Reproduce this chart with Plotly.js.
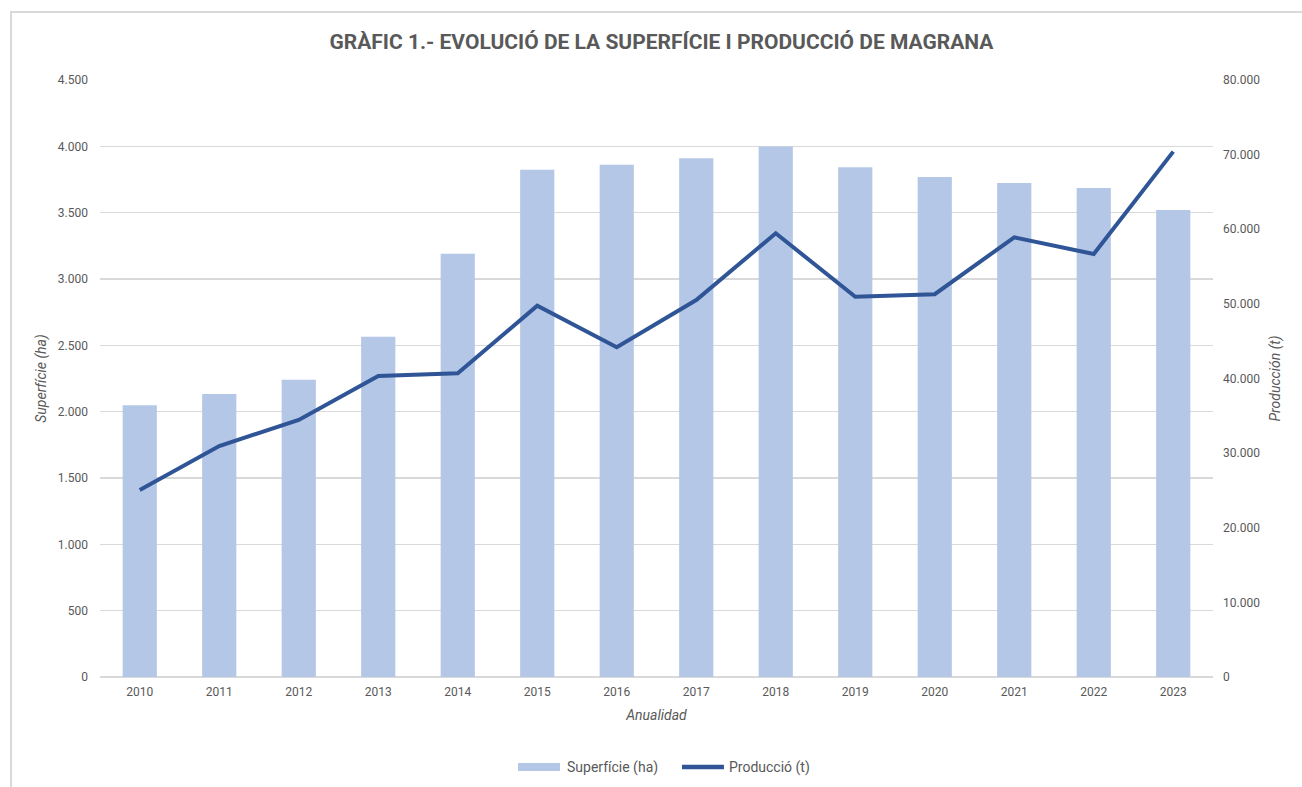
<!DOCTYPE html>
<html>
<head>
<meta charset="utf-8">
<script src="https://cdn.plot.ly/plotly-3.0.1.min.js"></script>
<style>
html,body{margin:0;padding:0;background:#fff;}
#frame{position:absolute;left:10px;top:11px;width:1400px;height:900px;border:2px solid #d9d9d9;box-sizing:border-box;pointer-events:none;z-index:5;}
#chart{position:absolute;left:0;top:0;width:1302px;height:787px;}
</style>
</head>
<body>
<div id="chart"></div>
<div id="frame"></div>
<script>
const years = ['2010','2011','2012','2013','2014','2015','2016','2017','2018','2019','2020','2021','2022','2023'];
const superficie = [2049, 2134, 2240, 2564, 3190, 3823, 3861, 3911, 3999, 3843, 3768, 3723, 3685, 3520];
const produccio = [25060, 30955, 34440, 40335, 40690, 49760, 44180, 50520, 59460, 50960, 51300, 58920, 56680, 70400];
const seriesNames = ['Superfície (ha)', 'Producció (t)'];

const font = 'Roboto, "Liberation Sans", Arial, sans-serif';
const grey = '#595959';
const barColor = '#b4c7e7';
const lineColor = '#2f5597';

const traces = [
  {
    type: 'bar', x: years, y: superficie, name: seriesNames[0],
    marker: {color: barColor}, width: 0.43, yaxis: 'y',
    hoverinfo: 'skip', showlegend: false
  },
  {
    type: 'scatter', mode: 'lines', x: years, y: produccio, name: seriesNames[1],
    line: {color: lineColor, width: 4}, yaxis: 'y2',
    hoverinfo: 'skip', showlegend: false
  }
];

// legend drawn manually (wide bar swatch like the original)
const legY = -0.1508;
const shapes = [
  {type: 'rect', xref: 'paper', yref: 'paper', x0: 0.3756, x1: 0.4133, y0: -0.1575, y1: -0.1441,
   fillcolor: barColor, line: {width: 0}},
  {type: 'line', xref: 'paper', yref: 'paper', x0: 0.5229, x1: 0.5606, y0: legY, y1: legY,
   line: {color: lineColor, width: 4.5}}
];
const annotations = [
  {xref: 'paper', yref: 'paper', x: 0.4178, y: legY, xanchor: 'left', yanchor: 'middle',
   text: seriesNames[0], showarrow: false, font: {size: 14, color: grey, family: font}},
  {xref: 'paper', yref: 'paper', x: 0.5633, y: legY, xanchor: 'left', yanchor: 'middle',
   text: seriesNames[1], showarrow: false, font: {size: 14, color: grey, family: font}}
];

const layout = {
  width: 1302, height: 787,
  margin: {l: 100, r: 89, t: 80, b: 110},
  paper_bgcolor: '#ffffff', plot_bgcolor: '#ffffff',
  separators: ',.',
  font: {family: font, color: grey, size: 12},
  title: {
    text: '<b>GRÀFIC 1.- EVOLUCIÓ DE LA SUPERFÍCIE I PRODUCCIÓ DE MAGRANA</b>',
    font: {family: font, size: 21, color: grey},
    x: 0.508, xanchor: 'center', y: 0.947, yanchor: 'middle'
  },
  xaxis: {
    type: 'category', showgrid: false, zeroline: false, showline: false,
    ticks: '', ticklabelstandoff: 6, tickfont: {size: 12, color: grey},
    title: {text: '<i>Anualidad</i>', font: {size: 14, color: grey}, standoff: 12}
  },
  yaxis: {
    range: [0, 4500], dtick: 500, tickformat: ',d',
    showgrid: true, gridcolor: '#d9d9d9', gridwidth: 1.3,
    zeroline: true, zerolinecolor: '#d9d9d9', zerolinewidth: 1.3,
    showline: false, ticks: '', ticklabelstandoff: 11,
    tickfont: {size: 12, color: grey},
    title: {text: '<i>Superfície (ha)</i>', font: {size: 14, color: grey}, standoff: 7}
  },
  yaxis2: {
    overlaying: 'y', side: 'right',
    range: [0, 80000], dtick: 10000, tickformat: ',d',
    showgrid: false, zeroline: false, showline: false, ticks: '', ticklabelstandoff: 9,
    tickfont: {size: 12, color: grey},
    title: {text: '<i>Producción (t)</i>', font: {size: 14, color: grey}, standoff: 11}
  },
  showlegend: false,
  shapes: shapes,
  annotations: annotations,
  bargap: 0.57
};

Plotly.newPlot('chart', traces, layout, {displayModeBar: false, staticPlot: true});
</script>
</body>
</html>
